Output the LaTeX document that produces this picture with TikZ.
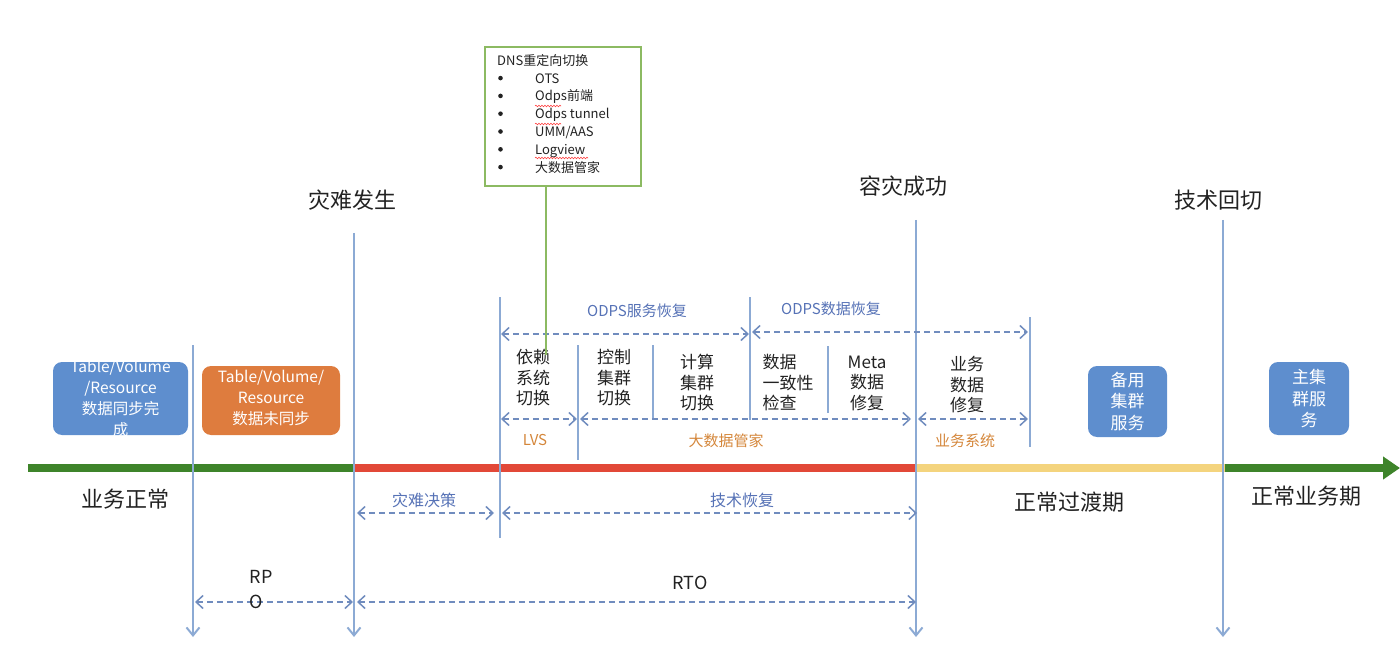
\documentclass[tikz,border=0pt]{standalone}
\usepackage{fontspec}
\setmainfont{Noto Sans CJK SC}
\usetikzlibrary{arrows.meta,positioning,decorations.pathmorphing}
\definecolor{vline}{RGB}{140,170,212}
\definecolor{dline}{RGB}{112,140,190}
\definecolor{ltext}{RGB}{86,114,182}
\definecolor{otext}{RGB}{212,134,58}
\definecolor{okgreen}{RGB}{62,132,42}
\definecolor{badred}{RGB}{226,72,56}
\definecolor{midyel}{RGB}{244,212,126}
\definecolor{boxblue}{RGB}{94,142,206}
\definecolor{boxorg}{RGB}{222,124,62}
\definecolor{dnsgreen}{RGB}{140,186,98}
\definecolor{ink}{RGB}{34,34,34}
\newcommand\dnsitem{\makebox[38pt][l]{\hspace{1pt}\raisebox{0.2em}{\tikz\fill[ink] (0,0) circle (2.3pt);}}}

\begin{document}
\begin{tikzpicture}[x=1pt,y=-1pt,
  vl/.style={vline,line width=2pt},
  vla/.style={vl,-{Straight Barb[length=8pt,width=13pt]}},
  span/.style={dline,line width=1.5pt,dash pattern=on 6pt off 4pt,
    {Straight Barb[length=7pt,width=13pt]}-{Straight Barb[length=7pt,width=13pt]}},
  title/.style={text=ink,font=\fontsize{22}{26}\selectfont},
  cell/.style={text=ink,align=center,font=\fontsize{17}{20.5}\selectfont},
  blab/.style={text=ltext,font=\fontsize{15}{18}\selectfont},
  olab/.style={text=otext,font=\fontsize{15}{18}\selectfont},
  card/.style={rounded corners=9pt,draw=none},
  cardtext/.style={text=white,align=center,font=\fontsize{15.5}{21}\selectfont},
  squiggle/.style={red!75,line width=0.6pt,decorate,
    decoration={snake,amplitude=0.8pt,segment length=3pt}}]
\useasboundingbox (0,0) rectangle (1400,655);

% time axis
\draw[okgreen,line width=8pt] (28,468) -- (355,468);
\draw[badred,line width=8pt] (355,468) -- (916,468);
\draw[midyel,line width=8pt] (916,468) -- (1225,468);
\draw[okgreen,line width=8pt,-{Triangle[length=17pt,width=22pt]}] (1225,468) -- (1400,468);

% milestones
\coordinate (rpoTop) at (193,345);   \coordinate (rpoBot) at (193,637);
\coordinate (hitTop) at (354,233);   \coordinate (hitBot) at (354,637);
\coordinate (decTop) at (500,297);   \coordinate (decBot) at (500,538);
\coordinate (lvsTop) at (578,345);   \coordinate (lvsBot) at (578,460);
\coordinate (ctlTop) at (653,345);   \coordinate (ctlBot) at (653,418);
\coordinate (svcTop) at (750,297);   \coordinate (svcBot) at (750,420);
\coordinate (chkTop) at (828,346);   \coordinate (chkBot) at (828,413);
\coordinate (okTop) at (916,220);    \coordinate (okBot) at (916,637);
\coordinate (bizTop) at (1030,317);  \coordinate (bizBot) at (1030,447);
\coordinate (backTop) at (1223,220); \coordinate (backBot) at (1223,637);
\draw[vla] (rpoTop) -- (rpoBot);
\draw[vla] (hitTop) -- (hitBot);
\draw[vl] (decTop) -- (decBot);
\draw[vl] (lvsTop) -- (lvsBot);
\draw[vl] (ctlTop) -- (ctlBot);
\draw[vl] (svcTop) -- (svcBot);
\draw[vl] (chkTop) -- (chkBot);
\draw[vla] (okTop) -- (okBot);
\draw[vl] (bizTop) -- (bizBot);
\draw[vla] (backTop) -- (backBot);

\node[title] (hit) at (352,200) {灾难发生};
\node[title] (ok) at (903,186) {容灾成功};
\node[title] (back) at (1218,200) {技术回切};
\node[title] (normal) at (125,499) {业务正常};
\node[title] (trans) at (1069,502) {正常过渡期};
\node[title] (steady) at (1306,496) {正常业务期};

% spans
\draw[span] (501,334) -- (749,334);
\node[blab] (svc) at (637,311) {ODPS服务恢复};
\draw[span] (752,332) -- (1028,332);
\node[blab] (data) at (831,309) {ODPS数据恢复};
\draw[span] (501,419) -- (577,419);
\node[olab] (lvs) at (535,440) {LVS};
\draw[span] (580,419) -- (911,419);
\node[olab] (mgr) at (726,441) {大数据管家};
\draw[span] (918,419) -- (1028,419);
\node[olab] (bizsys) at (965,441) {业务系统};
\draw[span] (357,513) -- (494,513);
\node[blab,font=\fontsize{16}{19}\selectfont] (decide) at (424,500) {灾难决策};
\draw[span] (502,513) -- (917,513);
\node[blab,font=\fontsize{16}{19}\selectfont] (tech) at (742,500) {技术恢复};
\draw[span] (195,602) -- (353,602);
\node[text=ink,align=left,font=\fontsize{18}{25}\selectfont] (rpo) at (261,590) {RP\\O};
\draw[span] (357,602) -- (916,602);
\node[text=ink,font=\fontsize{18}{22}\selectfont] (rto) at (690,583) {RTO};

% steps
\node[cell] (dep) at (533,378) {依赖\\系统\\切换};
\node[cell] (ctl) at (614,378) {控制\\集群\\切换};
\node[cell] (cmp) at (697,383) {计算\\集群\\切换};
\node[cell,align=left,anchor=west] (chk) at (759,383) {数据\\一致性\\检查};
\node[cell] (meta) at (867,383) {Meta\\数据\\修复};
\node[cell] (fix) at (967,385) {业务\\数据\\修复};

% cards
\node[card,fill=boxblue,minimum width=135pt,minimum height=73pt] (sync) at (120.5,398.5) {};
\node[cardtext] at (sync) {Table/Volume\\/Resource\\数据同步完\\成};
\node[card,fill=boxorg,minimum width=138pt,minimum height=69pt] (nosync) at (271,400.5) {};
\node[cardtext] at (271,398) {Table/Volume/\\Resource\\数据未同步};
\node[card,fill=boxblue,minimum width=79pt,minimum height=71pt] (standby) at (1127.5,401.5) {};
\node[cardtext,font=\fontsize{17}{21.5}\selectfont] at (standby) {备用\\集群\\服务};
\node[card,fill=boxblue,minimum width=80pt,minimum height=73pt] (primary) at (1309,398.5) {};
\node[cardtext,font=\fontsize{17}{21.5}\selectfont] at (primary) {主集\\群服\\务};

% DNS note
\node[draw=dnsgreen,line width=1.5pt,minimum width=156pt,minimum height=139pt] (dns) at (563,116.5) {};
\node[anchor=north west,align=left,text=ink,font=\fontsize{13}{17.8}\selectfont,inner sep=0pt]
  (dnslist) at (497,54) {DNS重定向切换\\
  \dnsitem OTS\\
  \dnsitem Odps前端\\
  \dnsitem Odps tunnel\\
  \dnsitem UMM/AAS\\
  \dnsitem Logview\\
  \dnsitem 大数据管家};
\draw[squiggle] (535,106) -- (561,106);
\draw[squiggle] (535,124) -- (561,124);
\draw[squiggle] (535,158) -- (588,158);
\coordinate (dnsfoot) at (546,355);
\draw[dnsgreen,line width=1.5pt] (dns.south -| dnsfoot) -- (dnsfoot);
\end{tikzpicture}
\end{document}
